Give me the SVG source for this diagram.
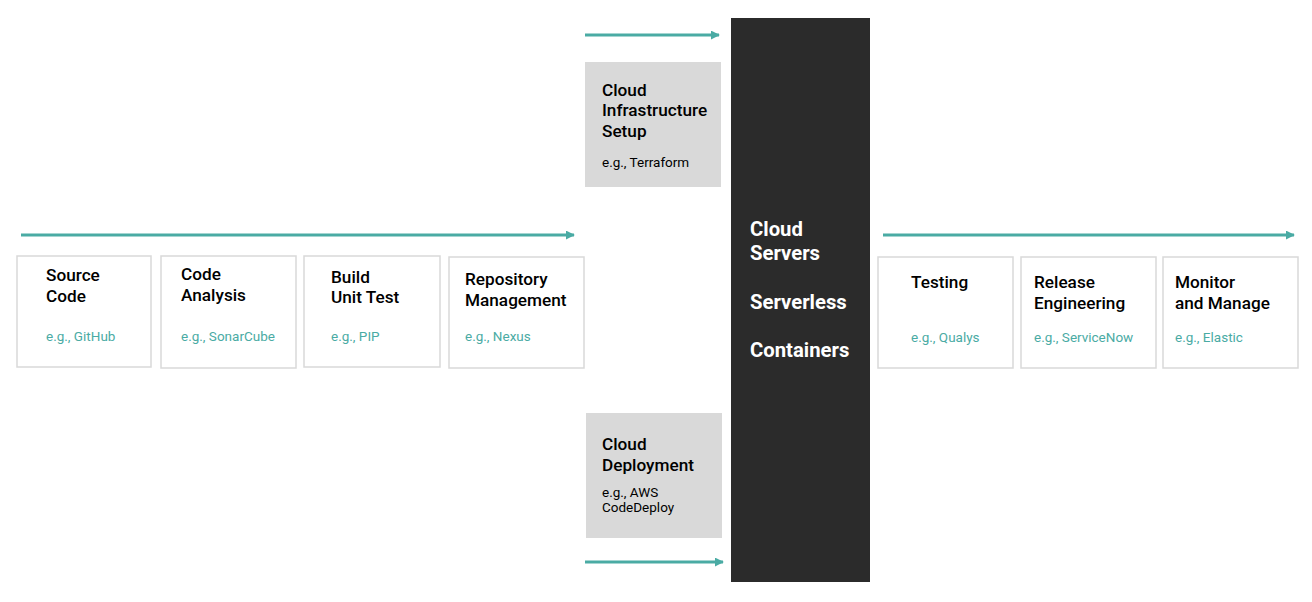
<svg xmlns="http://www.w3.org/2000/svg" width="1312" height="602" viewBox="0 0 1312 602">
<style>
.box{fill:#ffffff;stroke:#d9d9d9;stroke-width:1.5}
.gray{fill:#d9d9d9}
.dark{fill:#2b2b2b}
.t{font-family:Roboto,"Liberation Sans",sans-serif;font-size:17.2px;font-weight:500;fill:#000}
.eg{font-family:Roboto,"Liberation Sans",sans-serif;font-size:13.5px;fill:#4aaba4}
.egk{font-family:Roboto,"Liberation Sans",sans-serif;font-size:13.5px;fill:#000}
.w{font-family:Roboto,"Liberation Sans",sans-serif;font-size:20.3px;font-weight:700;fill:#fff}
.arr{stroke:#4aaba4;stroke-width:3;fill:none;marker-end:url(#ah)}
</style>
<defs>
<marker id="ah" viewBox="0 0 10 10" refX="9" refY="5" markerWidth="3" markerHeight="3" orient="auto" markerUnits="strokeWidth">
<path d="M0,0 L10,5 L0,10 z" fill="#4aaba4"/>
</marker>
</defs>
<rect width="1312" height="602" fill="#fff"/>
<g id="connectors">
<line class="arr" x1="21" y1="235" x2="574" y2="235"/>
<line class="arr" x1="883" y1="235" x2="1294" y2="235"/>
<line class="arr" x1="585" y1="35" x2="719" y2="35"/>
<line class="arr" x1="585" y1="562" x2="723" y2="562"/>
</g>
<g id="source-code">
<rect class="box" x="17" y="256" width="134" height="111"/>
<text class="t" x="46" y="281">Source</text>
<text class="t" x="46" y="302">Code</text>
<text class="eg" x="46" y="341">e.g., GitHub</text>
</g>
<g id="code-analysis">
<rect class="box" x="161" y="256" width="135" height="112"/>
<text class="t" x="181" y="280">Code</text>
<text class="t" x="181" y="301">Analysis</text>
<text class="eg" x="181" y="341">e.g., SonarCube</text>
</g>
<g id="build-unit-test">
<rect class="box" x="304" y="256" width="136" height="111"/>
<text class="t" x="331" y="283">Build</text>
<text class="t" x="331" y="303">Unit Test</text>
<text class="eg" x="331" y="341">e.g., PIP</text>
</g>
<g id="repository-management">
<rect class="box" x="449" y="257" width="135" height="111"/>
<text class="t" x="465" y="285">Repository</text>
<text class="t" x="465" y="306">Management</text>
<text class="eg" x="465" y="341">e.g., Nexus</text>
</g>
<g id="cloud-infrastructure-setup">
<rect class="gray" x="585" y="62" width="136" height="125"/>
<text class="t" x="602" y="96">Cloud</text>
<text class="t" x="602" y="116">Infrastructure</text>
<text class="t" x="602" y="137">Setup</text>
<text class="egk" x="602" y="167">e.g., Terraform</text>
</g>
<g id="cloud-deployment">
<rect class="gray" x="586" y="413" width="136" height="125"/>
<text class="t" x="602" y="450">Cloud</text>
<text class="t" x="602" y="471">Deployment</text>
<text class="egk" x="602" y="497">e.g., AWS</text>
<text class="egk" x="602" y="512">CodeDeploy</text>
</g>
<g id="cloud-platform">
<rect class="dark" x="731" y="18" width="139" height="564"/>
<text class="w" x="750" y="236">Cloud</text>
<text class="w" x="750" y="260">Servers</text>
<text class="w" x="750" y="309">Serverless</text>
<text class="w" x="750" y="357">Containers</text>
</g>
<g id="testing">
<rect class="box" x="878" y="257" width="135" height="111"/>
<text class="t" x="911" y="288">Testing</text>
<text class="eg" x="911" y="342">e.g., Qualys</text>
</g>
<g id="release-engineering">
<rect class="box" x="1021" y="257" width="135" height="111"/>
<text class="t" x="1034" y="288">Release</text>
<text class="t" x="1034" y="309">Engineering</text>
<text class="eg" x="1034" y="342">e.g., ServiceNow</text>
</g>
<g id="monitor-and-manage">
<rect class="box" x="1163" y="257" width="135" height="111"/>
<text class="t" x="1175" y="288">Monitor</text>
<text class="t" x="1175" y="309">and Manage</text>
<text class="eg" x="1175" y="342">e.g., Elastic</text>
</g>
</svg>
